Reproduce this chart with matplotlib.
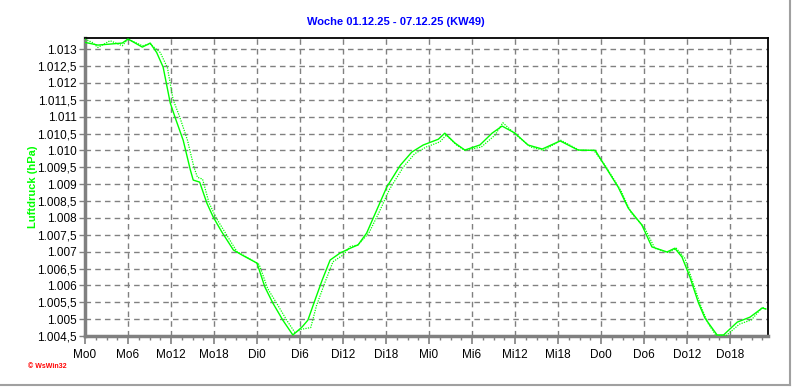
import matplotlib
matplotlib.use("Agg")
import matplotlib.pyplot as plt
from matplotlib.ticker import FuncFormatter, MultipleLocator
from matplotlib.lines import Line2D

# --- Data (hours since Mo 0:00, pressure in hPa) ---
hours_main = [0, 1.8, 5.2, 6, 8, 9.1, 10, 10.9, 11.9, 12.6, 13.7, 14.7, 15.1, 16.0,
              17.0, 17.9, 19.1, 20.7, 21.9, 24.0, 25.1, 26.2, 27.6, 29.0, 30.3, 31.1,
              32.1, 33.1, 34.2, 35.6, 37.0, 38.1, 39.3, 40.7, 42.1, 44.0, 45.6, 47.2,
              49.3, 50.2, 51.6, 53.0, 55.1, 56.8, 58.2, 60.0, 61.8, 63.8, 66.3, 68.8,
              71.2, 72.3, 74.4, 75.8, 77.7, 79.1, 81.2, 82.3, 83.3, 84.4, 85.6, 86.5,
              88.2, 89.1, 91.0, 92.8, 94.5, 95.0]
press_main = [1013.2, 1013.12, 1013.18, 1013.3, 1013.06, 1013.18, 1012.9, 1012.47,
              1011.4, 1010.96, 1010.3, 1009.42, 1009.12, 1009.06, 1008.44, 1008.02,
              1007.58, 1007.05, 1006.9, 1006.66, 1005.95, 1005.48, 1004.97, 1004.53,
              1004.77, 1004.97, 1005.57, 1006.16, 1006.75, 1006.96, 1007.1, 1007.2,
              1007.55, 1008.23, 1008.91, 1009.56, 1009.95, 1010.16, 1010.33, 1010.51,
              1010.22, 1010.01, 1010.16, 1010.51, 1010.72, 1010.51, 1010.16, 1010.04,
              1010.28, 1010.01, 1010.0, 1009.62, 1008.91, 1008.29, 1007.79, 1007.14,
              1006.99, 1007.1, 1006.84, 1006.25, 1005.48, 1005.03, 1004.53, 1004.53,
              1004.91, 1005.06, 1005.33, 1005.3]

hours_dot = [0, 1.0, 1.8, 3.5, 5.2, 6, 8, 9.1, 10.5, 11.5, 12.3, 13.2, 14.3, 15.2, 15.7,
             16.4, 17.3, 18.3, 19.6, 21.2, 22.3, 24.3, 25.5, 26.8, 28.2, 29.3, 30.2,
             31.5, 32.3, 33.5, 34.6, 36.0, 37.0, 38.1, 39.6, 41.0, 42.5, 44.4, 46.0,
             47.6, 49.5, 50.4, 51.9, 53.0, 55.3, 57.2, 58.3, 60.2, 62.2, 64.0, 66.4,
             69.0, 71.0, 72.6, 74.8, 76.2, 78.1, 79.5, 81.4, 82.5, 83.7, 84.8, 86.0,
             87.0, 88.1, 89.4, 91.3, 93.0, 94.5, 95.0]
press_dot = [1013.3, 1013.2, 1013.05, 1013.25, 1013.1, 1013.3, 1013.1, 1013.15, 1012.9,
             1012.45, 1011.5, 1011.0, 1010.3, 1009.5, 1009.2, 1009.15, 1008.45, 1008.0,
             1007.55, 1007.0, 1006.87, 1006.62, 1005.9, 1005.45, 1004.95, 1004.6,
             1004.7, 1004.75, 1005.4, 1006.1, 1006.7, 1006.9, 1007.15, 1007.2, 1007.55,
             1008.15, 1008.85, 1009.5, 1009.9, 1010.1, 1010.25, 1010.45, 1010.15,
             1010.0, 1010.1, 1010.45, 1010.82, 1010.45, 1010.1, 1010.0, 1010.3, 1010.0,
             1010.0, 1009.55, 1008.8, 1008.15, 1007.7, 1007.1, 1006.97, 1007.1, 1006.8,
             1006.1, 1005.35, 1004.85, 1004.5, 1004.5, 1004.85, 1004.98, 1005.35, 1005.3]

tick_hours = list(range(0, 96, 6))
tick_labels = ["Mo0", "Mo6", "Mo12", "Mo18", "Di0", "Di6", "Di12", "Di18",
               "Mi0", "Mi6", "Mi12", "Mi18", "Do0", "Do6", "Do12", "Do18"]

title = "Woche 01.12.25 - 07.12.25 (KW49)"

plt.rcParams['font.family'] = ['Liberation Sans', 'DejaVu Sans']

fig = plt.figure(figsize=(7.92, 3.87), dpi=100)
ax = fig.add_axes([85/792, 1 - 336/387, (768 - 85)/792, (336 - 38)/387])

green = "#00ff00"
ax.plot(hours_dot, press_dot, color=green, lw=0.9, ls=(0, (1, 1)), zorder=3)
ax.plot(hours_main, press_main, color=green, lw=1.0, zorder=4)

ax.set_xlim(0, 95.3)
ax.set_ylim(1004.5, 1013.33)

ax.set_xticks(tick_hours)
ax.set_xticklabels(tick_labels)
ax.xaxis.set_minor_locator(MultipleLocator(1.5))
ax.yaxis.set_major_locator(MultipleLocator(0.5))


def de_fmt(v, pos):
    s = f"{v:.1f}"
    whole, frac = s.split(".")
    txt = whole[0] + "." + whole[1:]
    if frac != "0":
        txt += "," + frac
    return txt


ax.yaxis.set_major_formatter(FuncFormatter(de_fmt))

ax.grid(True, which="major", color="#808080", ls=(0, (4, 3)), lw=1.0)
ax.tick_params(axis="both", which="major", labelsize=8.5, color="#808080")
ax.tick_params(axis="x", which="major", length=6, width=1.2, pad=3)
ax.tick_params(axis="x", which="minor", length=3, width=1.0, color="#808080")
ax.tick_params(axis="y", which="major", length=4, width=1.0, pad=2)

for side in ("left", "bottom"):
    ax.spines[side].set_color("#808080")
    ax.spines[side].set_linewidth(2.5)
for side in ("top", "right"):
    ax.spines[side].set_color("black")
    ax.spines[side].set_linewidth(1.3)

fig.text(396 / 792, 1 - 22 / 387, title, color="#0000ff", fontsize=8,
         fontweight="bold", ha="center", va="center")
fig.text(33 / 792, 1 - 187 / 387, "Luftdruck (hPa)", color=green, fontsize=8,
         fontweight="bold", rotation=90, ha="center", va="center")
fig.text(28 / 792, 1 - 367 / 387, "\u00a9 WsWin32", color="red", fontsize=5,
         fontweight="bold", ha="left", va="center")

# light frame at right / bottom edge
fig.add_artist(Line2D([789.5 / 792, 789.5 / 792], [1 - 384.5 / 387, 1], color="#a0a0a0", lw=1.5))
fig.add_artist(Line2D([0, 789.5 / 792], [1 - 384.5 / 387, 1 - 384.5 / 387], color="#a0a0a0", lw=1.5))

fig.savefig("out.png", dpi=100)
